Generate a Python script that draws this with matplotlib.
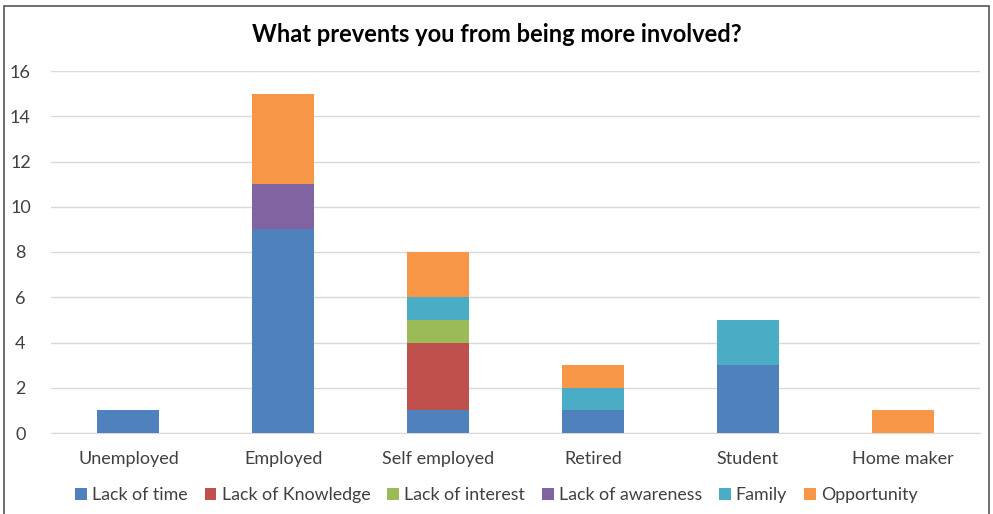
import numpy as np
import matplotlib.pyplot as plt
from matplotlib.patches import Rectangle

categories = ['Unemployed', 'Employed', 'Self employed', 'Retired', 'Student', 'Home maker']
series = ['Lack of time', 'Lack of Knowledge', 'Lack of interest',
          'Lack of awareness', 'Family', 'Opportunity']
lack_of_time = [1, 9, 1, 1, 3, 0]
lack_of_knowledge = [0, 0, 3, 0, 0, 0]
lack_of_interest = [0, 0, 1, 0, 0, 0]
lack_of_awareness = [0, 2, 0, 0, 0, 0]
family = [0, 0, 1, 1, 2, 0]
opportunity = [0, 4, 2, 1, 0, 1]
colors = ['#4F81BD', '#C0504D', '#9BBB59', '#8064A2', '#4BACC6', '#F79646']

plt.rcParams['font.family'] = ['Lato', 'DejaVu Sans']

fig = plt.figure(figsize=(9.93, 5.14), dpi=100)
ax = fig.add_axes([51 / 993, 1 - 433 / 514, 929 / 993, 362 / 514])

x = np.arange(len(categories))
bottom = np.zeros(len(categories))
for name, vals, c in zip(series, [lack_of_time, lack_of_knowledge, lack_of_interest,
                                  lack_of_awareness, family, opportunity], colors):
    ax.bar(x, vals, 0.4, bottom=bottom, color=c, label=name, zorder=3)
    bottom += np.array(vals)

ax.set_xlim(-0.5, 5.5)
ax.set_ylim(0, 16)
ax.set_yticks(range(0, 17, 2))
ax.set_xticks(x)
ax.set_xticklabels(categories)
ax.grid(axis='y', color='#D9D9D9', linewidth=1, zorder=0)
for s in ['top', 'right', 'left']:
    ax.spines[s].set_visible(False)
ax.spines['bottom'].set_color('#D9D9D9')
ax.tick_params(length=0, labelsize=13, colors='#404040')
ax.tick_params(axis='x', pad=13)
ax.tick_params(axis='y', pad=22)
for lbl in ax.get_yticklabels():
    lbl.set_horizontalalignment('center')

fig.text(0.5, 1 - 34 / 514, 'What prevents you from being more involved?',
         ha='center', va='center', fontsize=17, fontweight='bold')

ax.legend(loc='center', bbox_to_anchor=(0.5, 1 - 495 / 514), bbox_transform=fig.transFigure,
          ncol=6, frameon=False, fontsize=12.8, handlelength=0.65, handleheight=0.65,
          handletextpad=0.3, columnspacing=0.95, labelcolor='#404040')

fig.patches.append(Rectangle((4 / 993, -0.05), 985 / 993, 1.05 - 6 / 514,
                             transform=fig.transFigure, fill=False,
                             edgecolor='#555555', linewidth=1.2))

fig.savefig('out.png', dpi=100)
